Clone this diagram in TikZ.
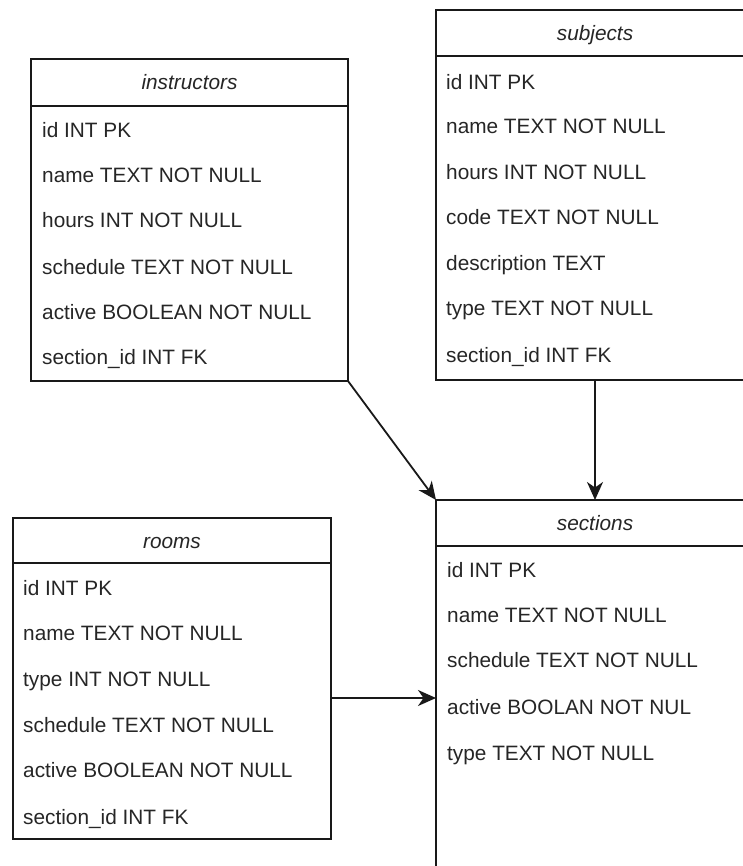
\documentclass[tikz,border=0pt]{standalone}
\usepackage{fontspec}
\setmainfont{Liberation Sans}
\usetikzlibrary{arrows.meta}
\tikzset{
  tbl/.style={draw=black!90, line width=1.8pt, fill=white, rectangle, outer sep=0pt, inner sep=0pt},
  hdr/.style={anchor=base, inner sep=0pt, text=black!85, font=\fontsize{20.8}{25}\selectfont\itshape},
  row/.style={anchor=base west, inner sep=0pt, text=black!85, font=\fontsize{20.8}{25}\selectfont},
  sep/.style={draw=black!90, line width=1.8pt},
  rel/.style={draw=black!90, line width=1.8pt, -{Stealth[length=18pt,width=16pt,inset=5.5pt]}}
}
\begin{document}
\begin{tikzpicture}[x=1pt,y=-1pt]
\path[use as bounding box] (0,0) rectangle (743,866);
\begin{scope}
\clip (0,0) rectangle (743,866);
% tables
\node[tbl, minimum width=317pt, minimum height=322pt] (instructors) at (189.5,220) {};
\node[tbl, minimum width=318pt, minimum height=370pt] (subjects) at (595,195) {};
\node[tbl, minimum width=318pt, minimum height=321pt] (rooms) at (172,678.5) {};
\node[tbl, minimum width=318pt, minimum height=400pt] (sections) at (595,700) {};
% header separators
\draw[sep] (instructors.west |- 0,106) -- (instructors.east |- 0,106);
\draw[sep] (subjects.west |- 0,56) -- (subjects.east |- 0,56);
\draw[sep] (rooms.west |- 0,563) -- (rooms.east |- 0,563);
\draw[sep] (sections.west |- 0,546) -- (sections.east |- 0,546);
% titles
\node[hdr] (t1) at (189.5,90) {instructors};
\node[hdr] (t2) at (595,40.5) {subjects};
\node[hdr] (t3) at (172,548) {rooms};
\node[hdr] (t4) at (595,530.5) {sections};
% instructors rows
\node[row] (i1) at (42,137.5) {id INT PK};
\node[row] (i2) at (42,182.5) {name TEXT NOT NULL};
\node[row] (i3) at (42,227.5) {hours INT NOT NULL};
\node[row] (i4) at (42,274) {schedule TEXT NOT NULL};
\node[row] (i5) at (42,319) {active BOOLEAN NOT NULL};
\node[row] (i6) at (42,364) {section\_id INT FK};
% subjects rows
\node[row] (s1) at (446,89.2) {id INT PK};
\node[row] (s2) at (446,133.8) {name TEXT NOT NULL};
\node[row] (s3) at (446,179.2) {hours INT NOT NULL};
\node[row] (s4) at (446,224.5) {code TEXT NOT NULL};
\node[row] (s5) at (446,270.5) {description TEXT};
\node[row] (s6) at (446,315.8) {type TEXT NOT NULL};
\node[row] (s7) at (446,362) {section\_id INT FK};
% rooms rows
\node[row] (r1) at (23,595.5) {id INT PK};
\node[row] (r2) at (23,640.8) {name TEXT NOT NULL};
\node[row] (r3) at (23,686.5) {type INT NOT NULL};
\node[row] (r4) at (23,732.5) {schedule TEXT NOT NULL};
\node[row] (r5) at (23,777.5) {active BOOLEAN NOT NULL};
\node[row] (r6) at (23,824.5) {section\_id INT FK};
% sections rows
\node[row] (c1) at (447,577.5) {id INT PK};
\node[row] (c2) at (447,622.5) {name TEXT NOT NULL};
\node[row] (c3) at (447,667.5) {schedule TEXT NOT NULL};
\node[row] (c4) at (447,714.2) {active BOOLAN NOT NUL};
\node[row] (c5) at (447,760.2) {type TEXT NOT NULL};
% relations
\draw[rel] (instructors.south east) -- (sections.north west);
\draw[rel] (subjects.south) -- (sections.north);
\draw[rel] (rooms.east |- 0,698) -- (sections.west |- 0,698);
\end{scope}
\end{tikzpicture}
\end{document}
